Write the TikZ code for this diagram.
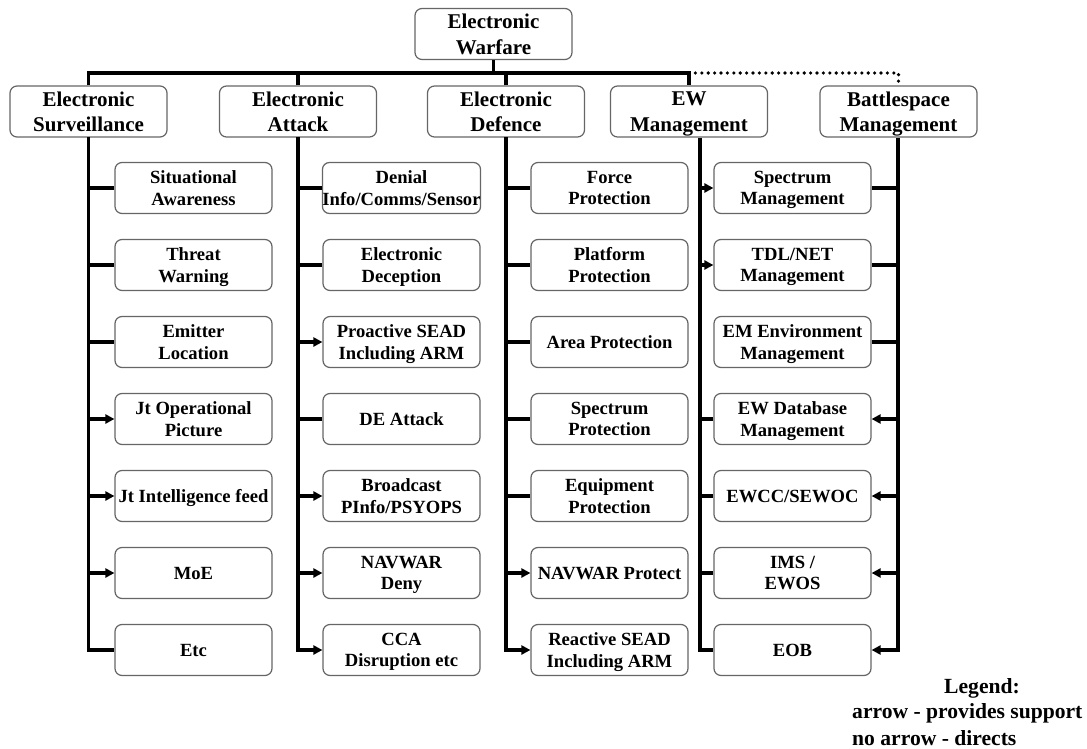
\documentclass[tikz,border=0pt]{standalone}
\usepackage{fontspec}
\setmainfont{Liberation Serif}
\usetikzlibrary{arrows.meta}

\tikzset{
  box/.style={draw=black!60, line width=1.2pt, rounded corners=7pt, fill=white,
    minimum width=157pt, minimum height=51pt, inner sep=0pt, align=center,
    text depth=0pt},
  headbox/.style={box, font=\fontsize{21}{25.5}\selectfont\bfseries},
  itembox/.style={box, font=\fontsize{18.6}{21.5}\selectfont\bfseries},
  wire/.style={line width=3.6pt, line join=miter},
  feed/.style={wire, -{Triangle[length=9pt,width=9pt]}},
  dotline/.style={line width=3.6pt, line cap=round, dash pattern=on 0pt off 6.4pt},
  legendtxt/.style={font=\fontsize{21.6}{25}\selectfont\bfseries, inner sep=0pt}
}

\begin{document}
\begin{tikzpicture}[x=1pt, y=-1pt]
\useasboundingbox (0,0) rectangle (1087,749);

% top of the hierarchy
\node[headbox] (ew) at (493.5,34) {Electronic\\Warfare};

% the five branches
\node[headbox] (es)  at (88.5,111.5)  {Electronic\\Surveillance};
\node[headbox] (ea)  at (298,111.5)   {Electronic\\Attack};
\node[headbox] (ed)  at (506,111.5)   {Electronic\\Defence};
\node[headbox] (ewm) at (689,111.5)   {EW\\Management};
\node[headbox] (bm)  at (898.5,111.5) {Battlespace\\Management};

% Electronic Surveillance items
\node[itembox] (es1) at (193.5,188) {Situational\\Awareness};
\node[itembox] (es2) at (193.5,265) {Threat\\Warning};
\node[itembox] (es3) at (193.5,342) {Emitter\\Location};
\node[itembox] (es4) at (193.5,419) {Jt Operational\\Picture};
\node[itembox] (es5) at (193.5,496) {Jt Intelligence feed};
\node[itembox] (es6) at (193.5,573) {MoE};
\node[itembox] (es7) at (193.5,650) {Etc};

% Electronic Attack items
\node[itembox] (ea1) at (401.5,188) {Denial\\Info/Comms/Sensor};
\node[itembox] (ea2) at (401.5,265) {Electronic\\Deception};
\node[itembox] (ea3) at (401.5,342) {Proactive SEAD\\Including ARM};
\node[itembox] (ea4) at (401.5,419) {DE Attack};
\node[itembox] (ea5) at (401.5,496) {Broadcast\\PInfo/PSYOPS};
\node[itembox] (ea6) at (401.5,573) {NAVWAR\\Deny};
\node[itembox] (ea7) at (401.5,650) {CCA\\Disruption etc};

% Electronic Defence items
\node[itembox] (ed1) at (609.5,188) {Force\\Protection};
\node[itembox] (ed2) at (609.5,265) {Platform\\Protection};
\node[itembox] (ed3) at (609.5,342) {Area Protection};
\node[itembox] (ed4) at (609.5,419) {Spectrum\\Protection};
\node[itembox] (ed5) at (609.5,496) {Equipment\\Protection};
\node[itembox] (ed6) at (609.5,573) {NAVWAR Protect};
\node[itembox] (ed7) at (609.5,650) {Reactive SEAD\\Including ARM};

% management items
\node[itembox] (mg1) at (792.5,188) {Spectrum\\Management};
\node[itembox] (mg2) at (792.5,265) {TDL/NET\\Management};
\node[itembox] (mg3) at (792.5,342) {EM Environment\\Management};
\node[itembox] (mg4) at (792.5,419) {EW Database\\Management};
\node[itembox] (mg5) at (792.5,496) {EWCC/SEWOC};
\node[itembox] (mg6) at (792.5,573) {IMS /\\EWOS};
\node[itembox] (mg7) at (792.5,650) {EOB};

% bus under the top box
\coordinate (busL) at (88.5,73);
\coordinate (busR) at (689,73);
\draw[wire] (ew.south) -- (ew.south |- busL);
\draw[wire] (es.north) -- (busL) -- (busR) -- (ewm.north);
\draw[wire] (ea.north) -- (ea.north |- busL);
\draw[wire] (ed.north) -- (ed.north |- busL);
\draw[dotline] (busR) -- (busR -| bm.north) -- (bm.north);

% trunk lines
\coordinate (esT)  at (88.5,137);
\coordinate (eaT)  at (298,137);
\coordinate (edT)  at (506,137);
\coordinate (mgT)  at (700,137);
\coordinate (bmT)  at (898,137);

% Electronic Surveillance
\draw[wire] (esT) -- (es7.west -| esT) -- (es7.west);
\foreach \i in {1,2,3} \draw[wire] (es\i.west -| esT) -- (es\i.west);
\foreach \i in {4,5,6} \draw[feed] (es\i.west -| esT) -- (es\i.west);

% Electronic Attack
\draw[feed] (eaT) -- (ea7.west -| eaT) -- (ea7.west);
\foreach \i in {1,2,4} \draw[wire] (ea\i.west -| eaT) -- (ea\i.west);
\foreach \i in {3,5,6} \draw[feed] (ea\i.west -| eaT) -- (ea\i.west);

% Electronic Defence
\draw[feed] (edT) -- (ed7.west -| edT) -- (ed7.west);
\foreach \i in {1,2,3,4,5} \draw[wire] (ed\i.west -| edT) -- (ed\i.west);
\draw[feed] (ed6.west -| edT) -- (ed6.west);

% EW Management
\draw[wire] (ewm.south -| mgT) -- (mg7.west -| mgT) -- (mg7.west);
\foreach \i in {1,2} \draw[feed] (mg\i.west -| mgT) -- (mg\i.west);
\foreach \i in {4,5,6} \draw[wire] (mg\i.west -| mgT) -- (mg\i.west);

% Battlespace Management
\draw[feed] (bm.south -| bmT) -- (mg7.east -| bmT) -- (mg7.east);
\foreach \i in {1,2,3} \draw[wire] (mg\i.east -| bmT) -- (mg\i.east);
\foreach \i in {4,5,6} \draw[feed] (mg\i.east -| bmT) -- (mg\i.east);

% legend
\node[legendtxt] (lg0) at (982,688) {Legend:};
\node[legendtxt, anchor=west] (lg1) at (852,713) {arrow - provides support};
\node[legendtxt, anchor=west] (lg2) at (852,738) {no arrow - directs};
\end{tikzpicture}
\end{document}
